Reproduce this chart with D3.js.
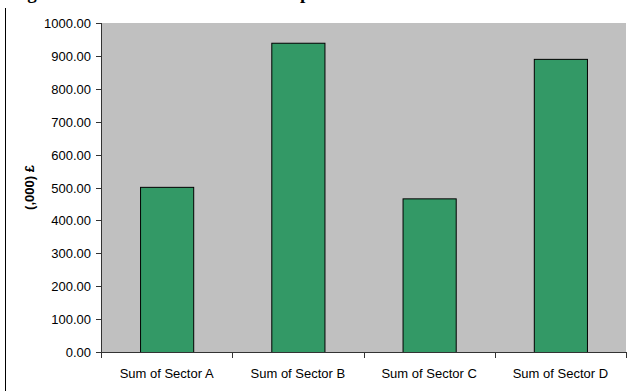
<!DOCTYPE html>
<html>
<head>
<meta charset="utf-8">
<script src="https://cdn.jsdelivr.net/npm/d3@7"></script>
<style>
  html, body { margin: 0; padding: 0; background: #fff; }
  svg { display: block; }
</style>
</head>
<body>
<svg id="chart" width="629" height="391"></svg>
<script>
// Sector totals, in thousands of pounds
const categories = ["Sum of Sector A", "Sum of Sector B", "Sum of Sector C", "Sum of Sector D"];
const values = [502, 940, 467, 891];
const yTicks = [0, 100, 200, 300, 400, 500, 600, 700, 800, 900, 1000];
const yTitle = "(,000) £";
const heading = "Figure 1: Total Sum of Sectors Output";

const svg = d3.select("#chart");
const W = 629, H = 391;
const plot = { left: 101, right: 626, top: 23, bottom: 352 };
const font = "'Liberation Sans', Arial, sans-serif";

// Heading sits above the visible area, only its descenders show
svg.append("text")
  .attr("x", 10).attr("y", -1)
  .attr("font-family", "'Liberation Serif', 'Times New Roman', serif")
  .attr("font-weight", "bold")
  .attr("font-size", 19)
  .attr("textLength", 318)
  .attr("lengthAdjust", "spacing")
  .attr("fill", "#000")
  .text(heading);

// Frame line on the left
svg.append("line")
  .attr("x1", 5.5).attr("x2", 5.5)
  .attr("y1", 8).attr("y2", H)
  .attr("stroke", "#000").attr("stroke-width", 1);

const x = d3.scaleBand()
  .domain(categories)
  .range([plot.left, plot.right])
  .paddingInner(0).paddingOuter(0);

const y = d3.scaleLinear()
  .domain([0, 1000])
  .range([plot.bottom, plot.top]);

// Plot background
svg.append("rect")
  .attr("x", plot.left).attr("y", plot.top)
  .attr("width", plot.right - plot.left)
  .attr("height", plot.bottom - plot.top)
  .attr("fill", "#c0c0c0");

// Bars: 40% of each band, centred
const barW = x.bandwidth() * 0.405;
svg.append("g").selectAll("rect")
  .data(values)
  .join("rect")
  .attr("x", (d, i) => x(categories[i]) + (x.bandwidth() - barW) / 2 + 0.5)
  .attr("y", d => y(d) + 0.5)
  .attr("width", barW)
  .attr("height", d => y(0) - y(d))
  .attr("fill", "#339966")
  .attr("stroke", "#000")
  .attr("stroke-width", 1);

// Y axis
const yAxis = svg.append("g")
  .attr("transform", `translate(${plot.left},0)`)
  .call(d3.axisLeft(y).tickValues(yTicks).tickFormat(d3.format(".2f")).tickSize(5).tickPadding(5));
yAxis.select(".domain").attr("stroke", "#333").attr("d", `M0.5,${plot.top}V${plot.bottom}`);
yAxis.selectAll(".tick line").attr("stroke", "#333");
yAxis.selectAll(".tick text")
  .attr("font-family", font).attr("font-size", 13).attr("fill", "#000");
yAxis.selectAll(".tick").attr("transform", d => `translate(0,${Math.round(y(d)) + 0.5})`);

// X axis with ticks on band boundaries
const xAxisG = svg.append("g");
xAxisG.append("line")
  .attr("x1", plot.left).attr("x2", plot.right + 1)
  .attr("y1", plot.bottom + 0.5).attr("y2", plot.bottom + 0.5)
  .attr("stroke", "#333");
const bounds = categories.map(c => x(c)).concat([plot.right]);
xAxisG.selectAll(".xt")
  .data(bounds)
  .join("line")
  .attr("x1", d => Math.round(d) + 0.5).attr("x2", d => Math.round(d) + 0.5)
  .attr("y1", plot.bottom).attr("y2", plot.bottom + 6)
  .attr("stroke", "#333");
xAxisG.selectAll("text")
  .data(categories)
  .join("text")
  .attr("x", d => x(d) + x.bandwidth() / 2)
  .attr("y", 378)
  .attr("text-anchor", "middle")
  .attr("font-family", font).attr("font-size", 13).attr("fill", "#000")
  .text(d => d);

// Y axis title
svg.append("text")
  .attr("transform", `translate(34,${(plot.top + plot.bottom) / 2}) rotate(-90)`)
  .attr("text-anchor", "middle")
  .attr("font-family", font).attr("font-size", 13).attr("font-weight", "bold")
  .attr("fill", "#000")
  .text(yTitle);
</script>
</body>
</html>
